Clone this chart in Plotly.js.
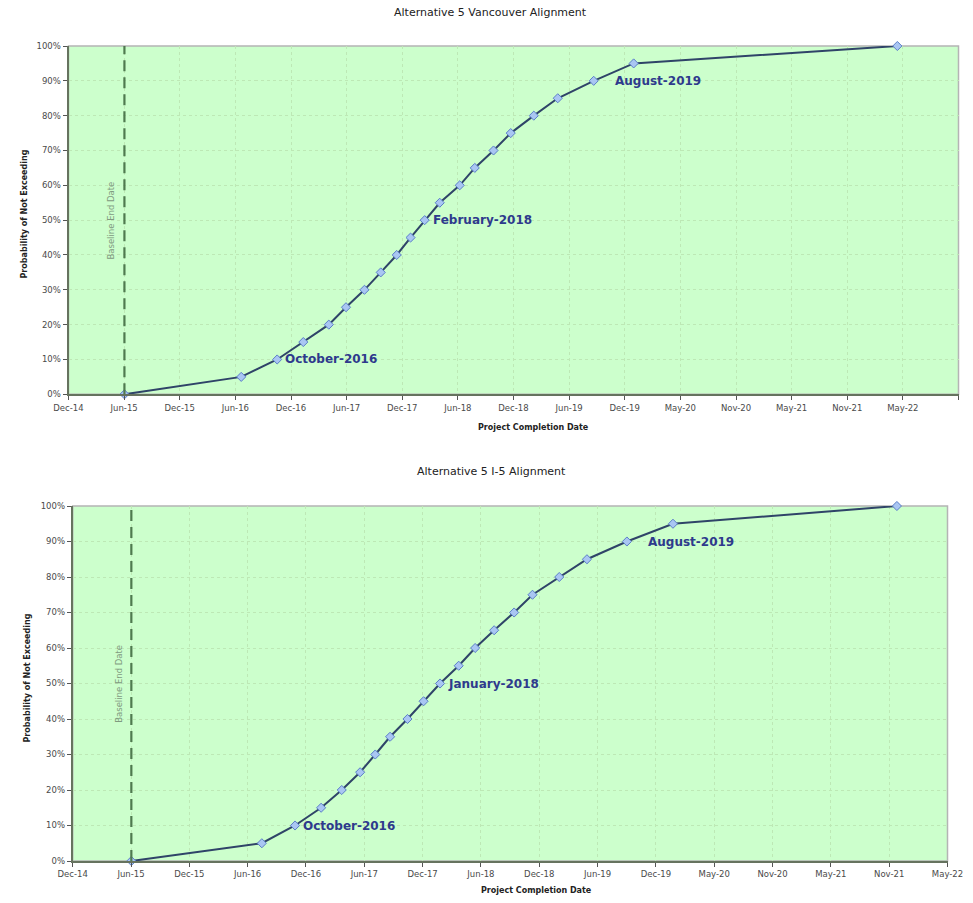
<!DOCTYPE html>
<html>
<head>
<meta charset="utf-8">
<script src="https://cdn.plot.ly/plotly-3.0.1.min.js"></script>
<style>html,body{margin:0;padding:0;background:#fff;}#chart{width:973px;height:903px;}</style>
</head>
<body>
<div id="chart"></div>
<script>
// ---- Data ----
const probabilities = [0, 0.05, 0.10, 0.15, 0.20, 0.25, 0.30, 0.35, 0.40, 0.45, 0.50,
                       0.55, 0.60, 0.65, 0.70, 0.75, 0.80, 0.85, 0.90, 0.95, 1.00];

const vancouverDates = ['2015-06-18', '2016-07-02', '2016-10-27', '2017-01-20', '2017-04-13',
  '2017-06-08', '2017-08-07', '2017-09-29', '2017-11-20', '2018-01-04', '2018-02-19',
  '2018-04-09', '2018-06-13', '2018-08-01', '2018-10-01', '2018-11-26', '2019-02-09',
  '2019-04-28', '2019-08-23', '2019-12-31', '2022-05-07'];

const i5Dates = ['2015-06-18', '2016-07-27', '2016-11-07', '2017-01-27', '2017-04-01',
  '2017-05-28', '2017-07-14', '2017-08-29', '2017-10-22', '2017-12-11', '2018-01-31',
  '2018-03-30', '2018-05-20', '2018-07-18', '2018-09-18', '2018-11-14', '2019-02-05',
  '2019-05-02', '2019-09-03', '2020-01-24', '2021-12-19'];

const baselineEndDate = '2015-06-18';

const labelIndices = [2, 10, 18];
const vancouverLabels = ['October-2016', 'February-2018', 'August-2019'];
const i5Labels = ['October-2016', 'January-2018', 'August-2019'];

const tickDates = ['2014-12-18', '2015-06-17', '2015-12-15', '2016-06-13', '2016-12-11',
  '2017-06-10', '2017-12-08', '2018-06-07', '2018-12-05', '2019-06-04', '2019-12-02',
  '2020-05-31', '2020-11-28', '2021-05-28', '2021-11-25', '2022-05-25', '2022-11-22'];
const tickLabels = ['Dec-14', 'Jun-15', 'Dec-15', 'Jun-16', 'Dec-16', 'Jun-17', 'Dec-17',
  'Jun-18', 'Dec-18', 'Jun-19', 'Dec-19', 'May-20', 'Nov-20', 'May-21', 'Nov-21',
  'May-22', 'Nov-22'];

const chartTitles = ['Alternative 5 Vancouver Alignment', 'Alternative 5 I-5 Alignment'];
const xTitle = 'Project Completion Date';
const yTitle = 'Probability of Not Exceeding';
const baselineText = 'Baseline End Date';

// ---- Styles ----
const W = 973, H = 903;
const px = v => v / W;
const py = v => 1 - v / H;
const tickFont = {family: 'DejaVu Sans', size: 8.5, color: '#4a4a4a'};
const lineStyle = {color: '#2f4468', width: 2};
const markerStyle = {symbol: 'diamond', size: 7, color: '#a9c6f2', line: {color: '#5b7fc8', width: 1}};
const labelFont = {family: 'DejaVu Sans', size: 12, color: '#2e3a8c', weight: 'bold'};
const gridColor = '#bde8b5';

function trace(dates, xa, ya) {
  return {
    x: dates, y: probabilities, type: 'scatter', mode: 'lines+markers',
    xaxis: xa, yaxis: ya, line: lineStyle, marker: markerStyle,
    hoverinfo: 'skip', showlegend: false, cliponaxis: false
  };
}

function xaxisDef(domain, nTicks, anchor) {
  return {
    type: 'date', domain: domain, anchor: anchor,
    range: [tickDates[0], tickDates[nTicks - 1]],
    tickmode: 'array', tickvals: tickDates.slice(0, nTicks), ticktext: tickLabels.slice(0, nTicks),
    tickfont: tickFont, ticks: 'outside', ticklen: 4, tickcolor: '#555', tickwidth: 1,
    showline: true, linecolor: '#66735f', linewidth: 2,
    showgrid: true, gridcolor: gridColor, gridwidth: 1, griddash: 'dot',
    zeroline: false, fixedrange: true
  };
}
function yaxisDef(domain, anchor) {
  return {
    domain: domain, anchor: anchor, range: [0, 1], tickmode: 'linear', tick0: 0, dtick: 0.1,
    tickformat: '.0%', tickfont: tickFont, ticks: 'outside', ticklen: 4, tickcolor: '#555',
    showline: true, linecolor: '#66735f', linewidth: 2,
    showgrid: true, gridcolor: gridColor, gridwidth: 1, griddash: 'dot',
    zeroline: false, fixedrange: true
  };
}

const data = [trace(vancouverDates, 'x', 'y'), trace(i5Dates, 'x2', 'y2')];

const shapes = [];
const annotations = [];
[['x', 'y', vancouverDates, vancouverLabels], ['x2', 'y2', i5Dates, i5Labels]].forEach(([xa, ya, dates, labels]) => {
  shapes.push({type: 'rect', xref: xa + ' domain', yref: ya + ' domain', x0: 0, x1: 1, y0: 0, y1: 1,
    line: {color: '#b4b4b4', width: 1.5}, layer: 'below'});
  shapes.push({type: 'line', xref: xa, yref: ya + ' domain', x0: baselineEndDate, x1: baselineEndDate,
    y0: 0, y1: 1, line: {color: '#4f7a4f', width: 2.2, dash: '11px,6px'}, layer: 'above'});
  annotations.push({xref: xa, yref: ya, x: baselineEndDate, y: 0.5, xshift: -13, text: baselineText,
    textangle: -90, showarrow: false, yanchor: 'middle',
    font: {family: 'DejaVu Sans', size: 8.5, color: '#7f9a7f'}});
  labelIndices.forEach((idx, k) => {
    annotations.push({xref: xa, yref: ya, x: dates[idx], y: probabilities[idx], text: labels[k],
      showarrow: false, xanchor: 'left', yanchor: 'middle', xshift: (k === 2 ? 19 : 6),
      font: labelFont});
  });
});

// Titles
const titleFont = {family: 'DejaVu Sans', size: 11, color: '#222'};
annotations.push({xref: 'paper', yref: 'paper', x: px(490), y: py(13), yanchor: 'middle', text: chartTitles[0], showarrow: false, font: titleFont});
annotations.push({xref: 'paper', yref: 'paper', x: px(491), y: py(472), yanchor: 'middle', text: chartTitles[1], showarrow: false, font: titleFont});
// Axis titles
const axTitleFont = {family: 'DejaVu Sans', size: 8, color: '#222', weight: 'bold'};
annotations.push({xref: 'paper', yref: 'paper', x: px(533), y: py(428), yanchor: 'middle', text: xTitle, showarrow: false, font: axTitleFont});
annotations.push({xref: 'paper', yref: 'paper', x: px(536), y: py(890), yanchor: 'middle', text: xTitle, showarrow: false, font: axTitleFont});
annotations.push({xref: 'paper', yref: 'paper', x: px(18), y: py(214), yanchor: 'middle', text: yTitle, textangle: -90, showarrow: false, font: axTitleFont});
annotations.push({xref: 'paper', yref: 'paper', x: px(20), y: py(678), yanchor: 'middle', text: yTitle, textangle: -90, showarrow: false, font: axTitleFont});

const layout = {
  width: W, height: H, margin: {l: 0, r: 0, t: 0, b: 0},
  paper_bgcolor: '#ffffff', plot_bgcolor: '#ccffcc',
  font: {family: 'DejaVu Sans'},
  xaxis: xaxisDef([px(68.5), px(958.5)], 17, 'y'),
  yaxis: yaxisDef([py(394.3), py(46)], 'x'),
  xaxis2: xaxisDef([px(72.7), px(947.5)], 16, 'y2'),
  yaxis2: yaxisDef([py(861), py(506)], 'x2'),
  shapes: shapes, annotations: annotations, showlegend: false
};

Plotly.newPlot('chart', data, layout, {staticPlot: true, displayModeBar: false});
</script>
</body>
</html>
